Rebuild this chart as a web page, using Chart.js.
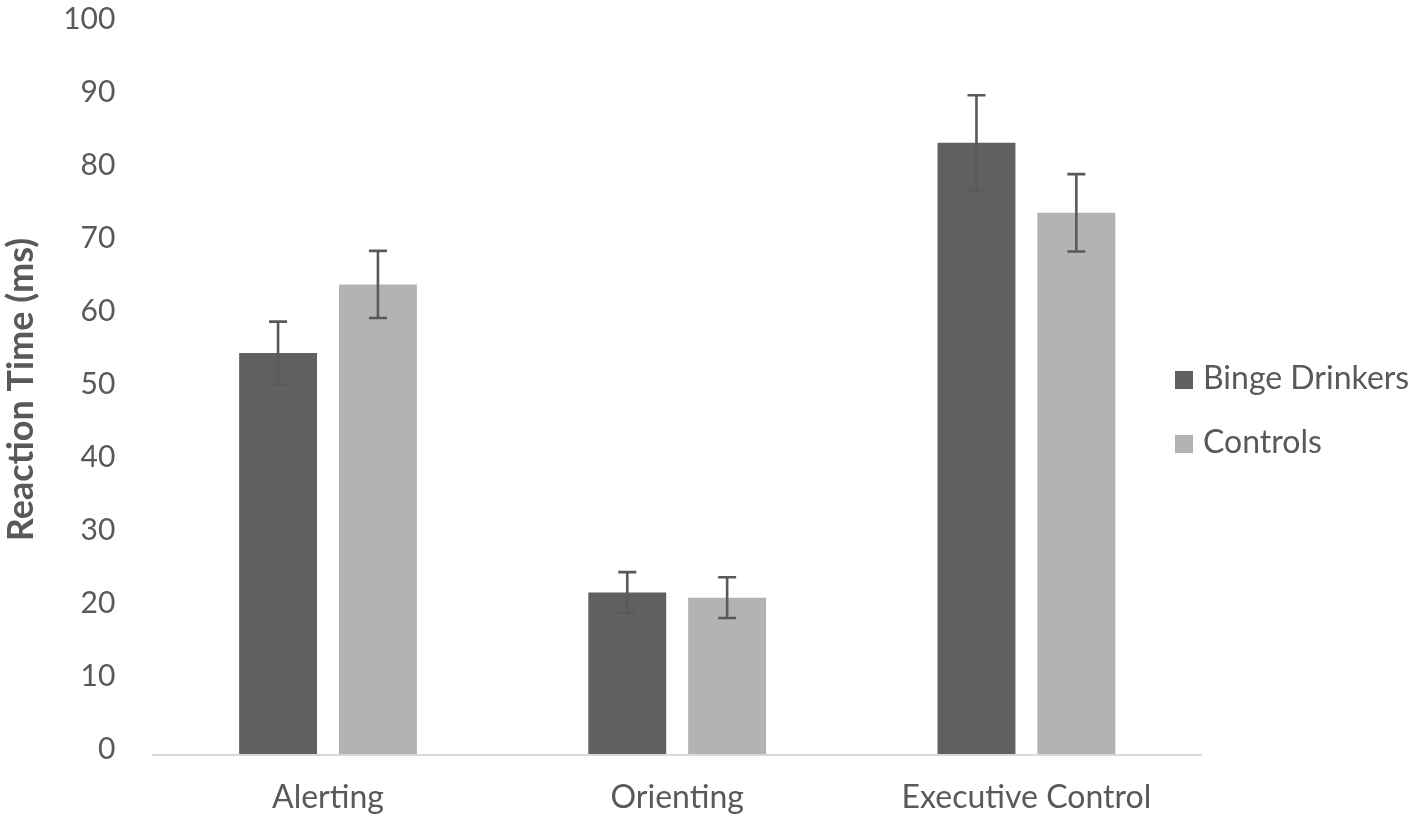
<!DOCTYPE html>
<html>
<head>
<meta charset="utf-8">
<script src="https://cdn.jsdelivr.net/npm/chart.js@4/dist/chart.umd.min.js"></script>
<style>
  html, body { margin: 0; padding: 0; background: #ffffff; }
  #wrap { width: 1418px; height: 821px; position: relative; }
  #legend { position: absolute; left: 1175px; top: 357px; font-family: Lato, "Open Sans", sans-serif; font-size: 32px; color: #595959; }
  .item { display: flex; align-items: center; height: 40px; line-height: 40px; margin-bottom: 24px; white-space: nowrap; }
  .box { width: 18px; height: 18px; margin-right: 10px; margin-top: 5px; flex: none; }
</style>
</head>
<body>
<div id="wrap"><canvas id="c"></canvas><div id="legend"></div></div>
<script>
const categories = ['Alerting', 'Orienting', 'Executive Control'];
const seriesNames = ['Binge Drinkers', 'Controls'];
const bingeValues = [55.0, 22.2, 83.8];
const bingeErrors = [4.3, 2.8, 6.5];
const controlValues = [64.4, 21.5, 74.2];
const controlErrors = [4.6, 2.8, 5.3];
const seriesColors = ['#606060', '#b3b3b3'];
const yTicks = [0, 10, 20, 30, 40, 50, 60, 70, 80, 90, 100];

const textColor = '#595959';
const fontFamily = 'Lato, "Open Sans", sans-serif';

const errorBarPlugin = {
  id: 'errorBars',
  afterDatasetsDraw(chart) {
    const ctx = chart.ctx;
    const yScale = chart.scales.y;
    ctx.save();
    ctx.strokeStyle = '#595959';
    ctx.lineWidth = 2.6;
    chart.data.datasets.forEach((ds, di) => {
      const meta = chart.getDatasetMeta(di);
      meta.data.forEach((bar, i) => {
        const v = ds.data[i];
        const e = ds.errors[i];
        const yTop = yScale.getPixelForValue(v + e);
        const yBot = yScale.getPixelForValue(v - e);
        const x = bar.x;
        const cap = 9;
        ctx.beginPath();
        ctx.moveTo(x, yTop); ctx.lineTo(x, yBot);
        ctx.moveTo(x - cap, yTop); ctx.lineTo(x + cap, yTop);
        ctx.moveTo(x - cap, yBot); ctx.lineTo(x + cap, yBot);
        ctx.stroke();
      });
    });
    ctx.restore();
  }
};

const chart = new Chart(document.getElementById('c'), {
  type: 'bar',
  data: {
    labels: categories,
    datasets: [
      { label: seriesNames[0], data: bingeValues, errors: bingeErrors, backgroundColor: seriesColors[0] },
      { label: seriesNames[1], data: controlValues, errors: controlErrors, backgroundColor: seriesColors[1] }
    ]
  },
  options: {
    responsive: true,
    maintainAspectRatio: false,
    animation: false,
    devicePixelRatio: 1,
    categoryPercentage: 0.572,
    barPercentage: 0.78,
    layout: { padding: { top: 24.5, left: 0, right: 217, bottom: 4 } },
    plugins: {
      tooltip: { enabled: false },
      legend: { display: false }
    },
    scales: {
      x: {
        grid: { display: true, drawOnChartArea: false, drawTicks: true, tickLength: 24, color: 'rgba(0,0,0,0)' },
        border: { display: true, color: '#d9d9d9', width: 2 },
        ticks: { color: textColor, font: { family: fontFamily, size: 32 }, padding: 0 }
      },
      y: {
        min: 0,
        max: 100,
        afterBuildTicks(scale) { scale.ticks = yTicks.map(v => ({ value: v })); },
        grid: { display: true, drawOnChartArea: false, drawTicks: true, tickLength: 36, color: 'rgba(0,0,0,0)' },
        border: { display: false },
        ticks: { color: textColor, font: { family: fontFamily, size: 30 }, padding: 2, labelOffset: -5 },
        title: {
          display: true,
          text: 'Reaction Time (ms)',
          color: textColor,
          font: { family: fontFamily, size: 36, weight: 'bold' },
          padding: { top: 0, bottom: 18 }
        }
      }
    }
  },
  plugins: [errorBarPlugin]
});

const legendEl = document.getElementById('legend');
chart.data.datasets.forEach((ds) => {
  const item = document.createElement('div');
  item.className = 'item';
  const box = document.createElement('span');
  box.className = 'box';
  box.style.background = ds.backgroundColor;
  const txt = document.createElement('span');
  txt.textContent = ds.label;
  item.appendChild(box);
  item.appendChild(txt);
  legendEl.appendChild(item);
});
</script>
</body>
</html>
